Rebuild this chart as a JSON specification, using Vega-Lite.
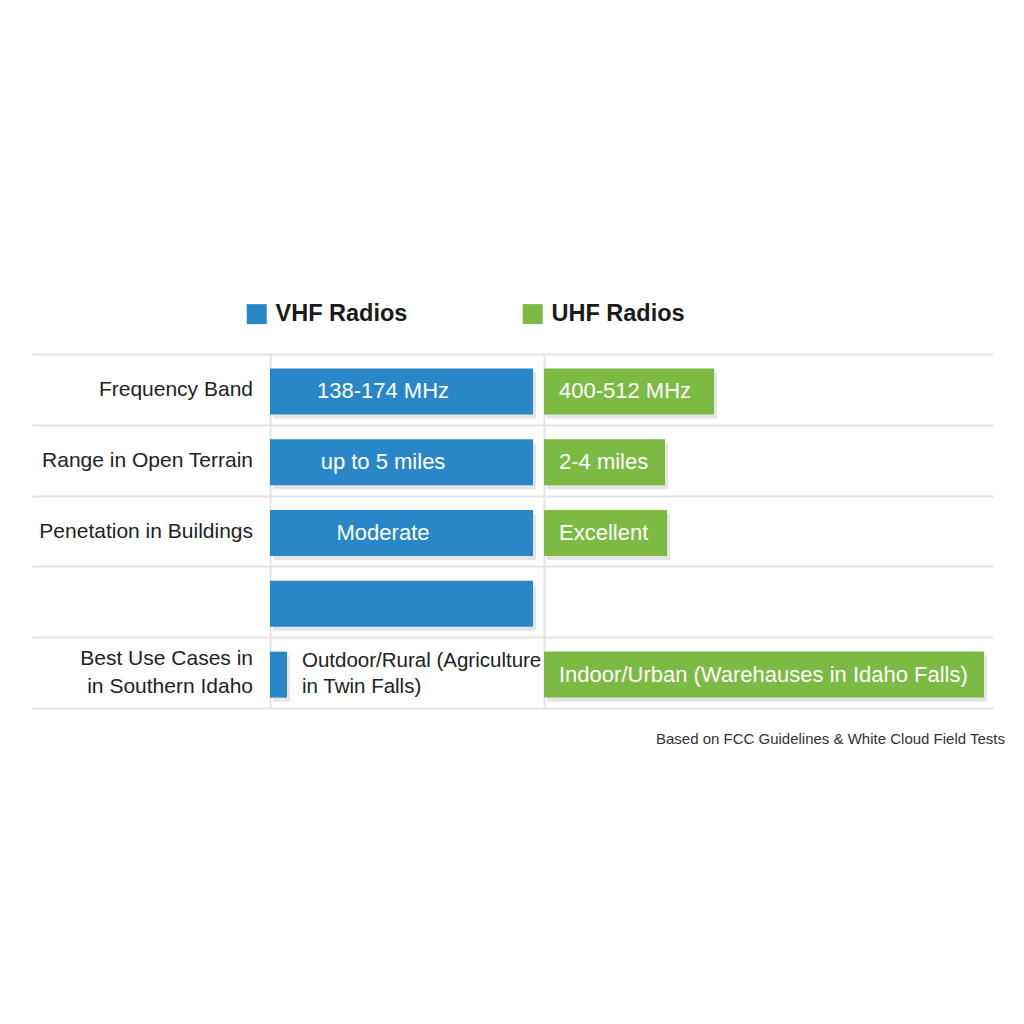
{
  "$schema": "https://vega.github.io/schema/vega-lite/v6.json",
  "background": "white",
  "padding": {"left": 32, "top": 302, "right": 10, "bottom": 10},
  "config": {
    "view": {"stroke": null},
    "font": "Liberation Sans",
    "text": {"font": "Liberation Sans"}
  },
  "datasets": {
    "rows": [
      {"row": 1, "attribute": "Frequency Band", "radio": "VHF Radios", "text": "138-174 MHz", "length": 263},
      {"row": 1, "attribute": "Frequency Band", "radio": "UHF Radios", "text": "400-512 MHz", "length": 170},
      {"row": 2, "attribute": "Range in Open Terrain", "radio": "VHF Radios", "text": "up to 5 miles", "length": 263},
      {"row": 2, "attribute": "Range in Open Terrain", "radio": "UHF Radios", "text": "2-4 miles", "length": 121},
      {"row": 3, "attribute": "Penetation in Buildings", "radio": "VHF Radios", "text": "Moderate", "length": 263},
      {"row": 3, "attribute": "Penetation in Buildings", "radio": "UHF Radios", "text": "Excellent", "length": 123},
      {"row": 4, "attribute": "", "radio": "VHF Radios", "text": "", "length": 263},
      {"row": 5, "attribute": "Best Use Cases in\nin Southern Idaho", "radio": "VHF Radios", "text": "Outdoor/Rural (Agriculture\nin Twin Falls)", "length": 17},
      {"row": 5, "attribute": "Best Use Cases in\nin Southern Idaho", "radio": "UHF Radios", "text": "Indoor/Urban (Warehauses in Idaho Falls)", "length": 440}
    ]
  },
  "title": {
    "text": "Based on FCC Guidelines & White Cloud Field Tests",
    "orient": "bottom",
    "anchor": "end",
    "fontSize": 15,
    "fontWeight": "normal",
    "color": "#333333",
    "font": "Liberation Sans",
    "offset": 24,
    "dx": 12
  },
  "spacing": 0,
  "resolve": {"scale": {"color": "shared"}},
  "hconcat": [
    {
      "width": 238,
      "height": 354,
      "data": {"name": "rows"},
      "transform": [{"filter": "datum.radio === 'VHF Radios'"}],
      "layer": [
        {
          "transform": [{"filter": "datum.row != 5"}],
          "mark": {"type": "text", "align": "right", "baseline": "middle", "dx": -17, "dy": 1, "fontSize": 21, "color": "#222222"},
          "encoding": {
            "x": {"datum": 1, "type": "quantitative", "scale": {"domain": [0, 1], "nice": false}, "axis": null},
            "text": {"field": "attribute"}
          }
        },
        {
          "transform": [{"filter": "datum.row == 5"}],
          "mark": {"type": "text", "align": "right", "baseline": "middle", "dx": -17, "dy": -14, "fontSize": 21, "color": "#222222", "lineBreak": "\n", "lineHeight": 28},
          "encoding": {
            "x": {"datum": 1, "type": "quantitative", "scale": {"domain": [0, 1], "nice": false}, "axis": null},
            "text": {"field": "attribute"}
          }
        }
      ],
      "encoding": {
        "y": {
          "field": "row", "type": "ordinal",
          "scale": {"domain": [1, 2, 3, 4, 5], "paddingInner": 0, "paddingOuter": 0},
          "axis": {"title": null, "labels": false, "ticks": false, "domain": false, "grid": true, "gridColor": "#e3e3e3", "gridWidth": 2, "tickBand": "extent"}
        }
      }
    },
    {
      "width": 274,
      "height": 354,
      "data": {"name": "rows"},
      "transform": [{"filter": "datum.radio === 'VHF Radios'"}],
      "encoding": {
        "y": {
          "field": "row", "type": "ordinal",
          "scale": {"domain": [1, 2, 3, 4, 5], "paddingInner": 0, "paddingOuter": 0},
          "axis": {"title": null, "labels": false, "ticks": false, "domain": true, "domainColor": "#e3e3e3", "domainWidth": 2, "grid": true, "gridColor": "#e3e3e3", "gridWidth": 2, "tickBand": "extent"}
        }
      },
      "layer": [
        {
          "mark": {"type": "bar", "color": "#000000", "opacity": 0.1, "xOffset": 3, "yOffset": 6, "height": {"band": 0.65}},
          "encoding": {
            "x": {"field": "length", "type": "quantitative", "scale": {"domain": [0, 274], "nice": false}, "axis": null}
          }
        },
        {
          "mark": {"type": "bar", "yOffset": 2, "height": {"band": 0.65}},
          "encoding": {
            "x": {"field": "length", "type": "quantitative", "scale": {"domain": [0, 274], "nice": false}, "axis": null},
            "color": {
              "field": "radio", "type": "nominal",
              "scale": {"domain": ["VHF Radios", "UHF Radios"], "range": ["#2a87c7", "#7cba44"]},
              "legend": {"orient": "none", "legendX": 213, "legendY": -52, "direction": "horizontal", "title": null, "symbolType": "square", "symbolSize": 400, "symbolStrokeWidth": 0, "symbolOpacity": 1, "labelFontSize": 23.5, "labelFontWeight": "bold", "labelColor": "#1a1a1a", "labelFont": "Liberation Sans", "labelOffset": 7, "columnPadding": 113}
            }
          }
        },
        {
          "transform": [{"filter": "datum.row <= 3"}],
          "mark": {"type": "text", "align": "center", "baseline": "middle", "dx": 113, "dy": 2, "fontSize": 22, "color": "#ffffff"},
          "encoding": {
            "x": {"datum": 0, "type": "quantitative"},
            "text": {"field": "text"}
          }
        },
        {
          "transform": [{"filter": "datum.row == 5"}],
          "mark": {"type": "text", "align": "left", "baseline": "middle", "dx": 32, "dy": -12, "fontSize": 20.5, "color": "#222222", "lineBreak": "\n", "lineHeight": 26},
          "encoding": {
            "x": {"datum": 0, "type": "quantitative"},
            "text": {"field": "text"}
          }
        }
      ]
    },
    {
      "width": 449,
      "height": 354,
      "data": {"name": "rows"},
      "transform": [{"filter": "datum.radio === 'UHF Radios'"}],
      "encoding": {
        "y": {
          "field": "row", "type": "ordinal",
          "scale": {"domain": [1, 2, 3, 4, 5], "paddingInner": 0, "paddingOuter": 0},
          "axis": {"title": null, "labels": false, "ticks": false, "domain": true, "domainColor": "#e3e3e3", "domainWidth": 2, "grid": true, "gridColor": "#e3e3e3", "gridWidth": 2, "tickBand": "extent"}
        }
      },
      "layer": [
        {
          "mark": {"type": "bar", "color": "#000000", "opacity": 0.1, "xOffset": 3, "yOffset": 6, "height": {"band": 0.65}},
          "encoding": {
            "x": {"field": "length", "type": "quantitative", "scale": {"domain": [0, 449], "nice": false}, "axis": null}
          }
        },
        {
          "mark": {"type": "bar", "yOffset": 2, "height": {"band": 0.65}},
          "encoding": {
            "x": {"field": "length", "type": "quantitative", "scale": {"domain": [0, 449], "nice": false}, "axis": null},
            "color": {
              "field": "radio", "type": "nominal",
              "scale": {"domain": ["VHF Radios", "UHF Radios"], "range": ["#2a87c7", "#7cba44"]},
              "legend": {"orient": "none", "legendX": 213, "legendY": -52, "direction": "horizontal", "title": null, "symbolType": "square", "symbolSize": 400, "symbolStrokeWidth": 0, "symbolOpacity": 1, "labelFontSize": 23.5, "labelFontWeight": "bold", "labelColor": "#1a1a1a", "labelFont": "Liberation Sans", "labelOffset": 7, "columnPadding": 113}
            }
          }
        },
        {
          "mark": {"type": "text", "align": "left", "baseline": "middle", "dx": 15, "dy": 2, "fontSize": 22, "color": "#ffffff"},
          "encoding": {
            "x": {"datum": 0, "type": "quantitative"},
            "text": {"field": "text"}
          }
        }
      ]
    }
  ]
}
